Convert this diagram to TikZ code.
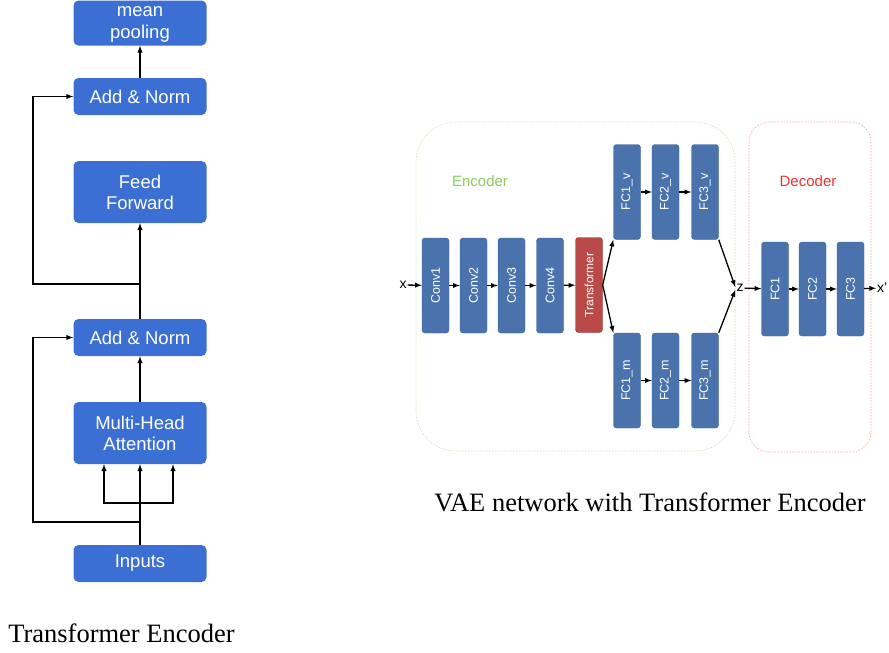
\documentclass[tikz,border=0pt]{standalone}
\usepackage{fontspec}
\setmainfont{Liberation Serif}
\setsansfont{Liberation Sans}
\usepackage{xcolor}
\definecolor{tblue}{HTML}{3C6FD3}
\definecolor{vblue}{HTML}{4A73AE}
\definecolor{vedge}{HTML}{3B5E8E}
\definecolor{tred}{HTML}{B94A48}
\definecolor{redge}{HTML}{8E3432}
\definecolor{encgreen}{HTML}{8CCB5A}
\definecolor{decred}{HTML}{F03030}

\begin{document}
\begin{tikzpicture}[x=1pt,y=-1pt,>=latex,
  tbox/.style={fill=tblue, rounded corners=5pt, text=white, inner sep=0pt,
    minimum width=133pt, align=center, font=\sffamily\fontsize{18.5}{21}\selectfont},
  vbox/.style={draw=vedge, fill=vblue, rounded corners=3pt, text=white, inner sep=0pt,
    minimum width=27pt, minimum height=95pt, font=\sffamily\fontsize{12.5}{14}\selectfont},
  tline/.style={line width=1.4pt},
  vline/.style={line width=1.3pt}]
\useasboundingbox (0,0) rectangle (889,653);

% left: transformer encoder
\node[tbox, minimum height=45pt, text depth=-6pt, font=\sffamily\fontsize{18.5}{22}\selectfont] (mp)
  at (140,23) {mean\\pooling};
\node[tbox, minimum height=37pt] (an2) at (140,96.5)  {Add \& Norm};
\node[tbox, minimum height=62pt] (ff)  at (140,192)   {Feed\\Forward};
\node[tbox, minimum height=37pt] (an1) at (140,337.5) {Add \& Norm};
\node[tbox, minimum height=62pt] (mha) at (140,433)   {Multi-Head\\Attention};
\node[tbox, minimum height=37pt] (inp) at (140,563.5) {Inputs};

\coordinate (s2) at (140,284);
\coordinate (s1) at (140,522);
\coordinate (br) at (140,503);
\draw[tline,->] (an2.north) -- (mp.south);
\draw[tline,->] (an1.north) -- (ff.south);
\draw[tline,->] (s2) -- ++(-107,0) |- (an2.west);
\draw[tline,->] (mha.north) -- (an1.south);
\draw[tline] (inp.north) -- (br);
\draw[tline,->] (br) -- (mha.south);
\draw[tline,->] (br) -| ([xshift=-36pt]mha.south);
\draw[tline,->] (br) -| ([xshift=33pt]mha.south);
\draw[tline,->] (s1) -- ++(-107,0) |- (an1.west);

\node[font=\fontsize{26.5}{30}\selectfont] (cap1) at (121.5,633) {Transformer Encoder};

% right: VAE
\draw[encgreen!50, line width=0.6pt, dash pattern=on 1.5pt off 1.5pt, rounded corners=40pt]
  (416,122) rectangle (735,451);
\draw[decred!45, line width=0.6pt, dash pattern=on 1.5pt off 1.5pt, rounded corners=20pt]
  (749,122) rectangle (871,452);
\node[text=encgreen, font=\sffamily\fontsize{15}{17}\selectfont] (enc) at (480,181) {Encoder};
\node[text=decred, font=\sffamily\fontsize{15}{17}\selectfont] (dec) at (808,181) {Decoder};

\foreach \i/\xx in {1/435.5,2/473.5,3/511.5,4/550}
  \node[vbox] (c\i) at (\xx,285.5) {\rotatebox{90}{Conv\i}};
\node[vbox, draw=redge, fill=tred, font=\sffamily\fontsize{12}{14}\selectfont] (tr) at (589,285)
  {\rotatebox{90}{Transformer}};

\foreach \i/\xx in {1/627,2/665.5,3/705}{
  \node[vbox] (fv\i) at (\xx,192) {\rotatebox{90}{FC\i\_v}};
  \node[vbox] (fm\i) at (\xx,380.5) {\rotatebox{90}{FC\i\_m}};
}
\foreach \i/\xx in {1/775,2/812.5,3/850.5}
  \node[vbox, minimum height=94pt] (fd\i) at (\xx,289) {\rotatebox{90}{FC\i}};

\node[font=\sffamily\fontsize{14}{16}\selectfont, inner sep=1pt] (xin) at (403,285) {x};
\node[font=\sffamily\fontsize{14}{16}\selectfont, inner sep=1pt] (z) at (740,288) {z};
\node[font=\sffamily\fontsize{14}{16}\selectfont, inner sep=1pt, anchor=west] (xo) at (876,288) {x'};

\draw[vline,->] (xin) -- (c1);
\draw[vline,->] (c1) -- (c2);
\draw[vline,->] (c2) -- (c3);
\draw[vline,->] (c3) -- (c4);
\draw[vline,->] (c4) -- (tr);
\draw[vline,->] (tr.east) -- (fv1.south west);
\draw[vline,->] (tr.east) -- (fm1.north west);
\draw[vline,->] (fv1) -- (fv2);
\draw[vline,->] (fv2) -- (fv3);
\draw[vline,->] (fm1) -- (fm2);
\draw[vline,->] (fm2) -- (fm3);
\draw[vline,->] (fv3.south east) -- ([yshift=1pt]z.west);
\draw[vline,->] (fm3.north east) -- ([yshift=-2pt]z.west);
\draw[vline,->] (z) -- (fd1);
\draw[vline,->] (fd1) -- (fd2);
\draw[vline,->] (fd2) -- (fd3);
\draw[vline,->] (fd3) -- (xo);

\node[font=\fontsize{26.5}{30}\selectfont] (cap2) at (650,502) {VAE network with Transformer Encoder};
\end{tikzpicture}
\end{document}
